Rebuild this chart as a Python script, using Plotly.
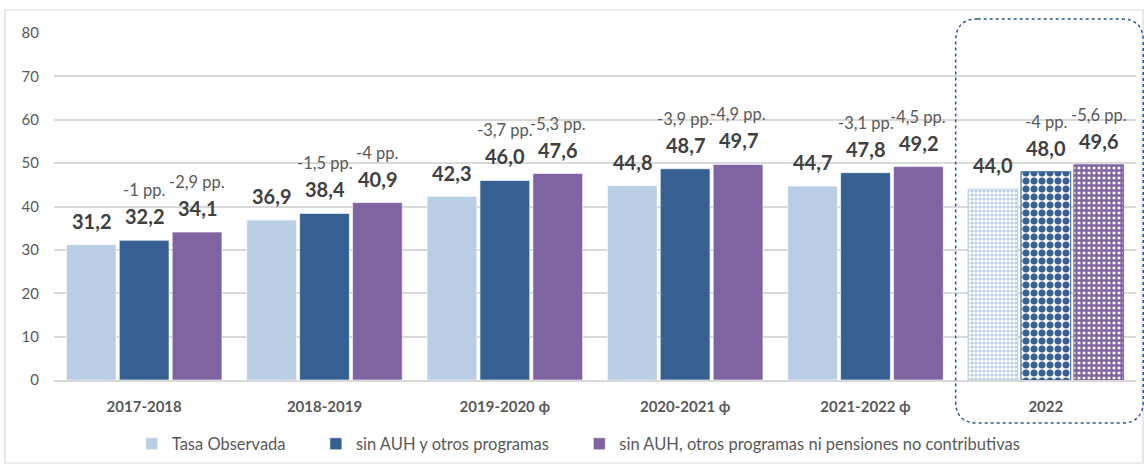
import plotly.graph_objects as go

categories = ["2017-2018", "2018-2019", "2019-2020 ϕ", "2020-2021 ϕ", "2021-2022 ϕ", "2022"]
tasa_observada = [31.2, 36.9, 42.3, 44.8, 44.7, 44.0]
sin_auh = [32.2, 38.4, 46.0, 48.7, 47.8, 48.0]
sin_auh_pnc = [34.1, 40.9, 47.6, 49.7, 49.2, 49.6]
diff_auh = ["-1 pp.", "-1,5 pp.", "-3,7 pp.", "-3,9 pp.", "-3,1 pp.", "-4 pp."]
diff_auh_pnc = ["-2,9 pp.", "-4 pp.", "-5,3 pp.", "-4,9 pp.", "-4,5 pp.", "-5,6 pp."]
series_names = ["Tasa Observada", "sin AUH y otros programas",
                "sin AUH, otros programas ni pensiones no contributivas"]
y_ticks = [0, 10, 20, 30, 40, 50, 60, 70, 80]

COLORS = ["#B9CDE5", "#366092", "#8064A2"]
PATTERNS = [(".", 4, 0.5), (".", 8, 0.6), ("+", 5, 0.7)]
FONT = "Lato, 'Open Sans', sans-serif"
TXT = "#404040"
GREY = "#595959"
NBSP = "\u00a0"

# layout geometry
L, R, T, B = 54, 8, 33, 85
W, H = 1144, 465
BARGAP, BARGROUPGAP = 0.12, 0.06
pw, ph = W - L - R, H - T - B
n = len(categories)
slot_px = (pw / n) * (1 - BARGAP) / 3


def fmt(v):
    return f"{v:.1f}".replace(".", ",")


def px_to_paper_x(px):
    return (px - L) / pw


def px_to_paper_y(py):
    return (H - B - py) / ph


fig = go.Figure()
all_vals = [tasa_observada, sin_auh, sin_auh_pnc]
all_diffs = [None, diff_auh, diff_auh_pnc]
legend_names = [series_names[0] + NBSP * 6, series_names[1] + NBSP * 6, series_names[2]]
annotations = []
for k in range(3):
    shape, size, sol = PATTERNS[k]
    fig.add_trace(go.Bar(
        x=categories,
        y=all_vals[k],
        name=legend_names[k],
        marker=dict(
            color=COLORS[k],
            line=dict(width=1, color=["rgba(255,255,255,0.6)"] * (n - 1) + [COLORS[k]]),
            pattern=dict(
                shape=[""] * (n - 1) + [shape],
                fgcolor=COLORS[k],
                bgcolor="white",
                size=size,
                solidity=sol,
                fillmode="replace",
            ),
        ),
        hovertemplate="%{x}: %{y}<extra>" + series_names[k] + "</extra>",
    ))
    xs = (k - 1) * slot_px
    for i in range(n):
        v = all_vals[k][i]
        # x given as category index (a label like "2022" would be read as a number)
        annotations.append(dict(
            x=i, y=v, xref="x", yref="y", text=f"<b>{fmt(v)}</b>",
            showarrow=False, yanchor="bottom", xanchor="center",
            xshift=xs, yshift=10,
            font=dict(family=FONT, size=20, color=TXT),
        ))
        if all_diffs[k] is not None:
            annotations.append(dict(
                x=i, y=v, xref="x", yref="y", text=all_diffs[k][i],
                showarrow=False, yanchor="bottom", xanchor="center",
                xshift=xs, yshift=38,
                font=dict(family=FONT, size=16.5, color=GREY),
            ))

shapes = []
# outer chart border
shapes.append(dict(
    type="rect", xref="paper", yref="paper",
    x0=px_to_paper_x(5), x1=px_to_paper_x(1143),
    y0=px_to_paper_y(463), y1=px_to_paper_y(10),
    line=dict(color="#D9D9D9", width=1.2), layer="below",
))

# dotted rounded box around the last category (category axis range [-0.5, n-0.5])
xi = n - 1
bx0 = (xi - 0.5 + 0.5) / n
bx1 = (xi + 0.54 + 0.5) / n
by0, by1 = px_to_paper_y(423), px_to_paper_y(19)
rx = 22 / pw
ry = 22 / ph
path = (f"M {bx0 + rx},{by1} L {bx1 - rx},{by1} Q {bx1},{by1} {bx1},{by1 - ry} "
        f"L {bx1},{by0 + ry} Q {bx1},{by0} {bx1 - rx},{by0} "
        f"L {bx0 + rx},{by0} Q {bx0},{by0} {bx0},{by0 + ry} "
        f"L {bx0},{by1 - ry} Q {bx0},{by1} {bx0 + rx},{by1} Z")
shapes.append(dict(
    type="path", xref="paper", yref="paper", path=path,
    line=dict(color="#2F5597", width=1.5, dash="dot"),
))

fig.update_layout(
    width=W, height=H,
    margin=dict(l=L, r=R, t=T, b=B, autoexpand=False),
    paper_bgcolor="white",
    plot_bgcolor="white",
    barmode="group",
    bargap=BARGAP,
    bargroupgap=BARGROUPGAP,
    font=dict(family=FONT, color=GREY, size=15),
    showlegend=True,
    legend=dict(
        orientation="h", x=0.485, xanchor="center", y=px_to_paper_y(444), yanchor="middle",
        font=dict(family=FONT, size=16.5, color=GREY),
        itemwidth=30, traceorder="normal",
    ),
    shapes=shapes,
    annotations=annotations,
    xaxis=dict(
        type="category",
        range=[-0.5, n - 0.5],
        showgrid=False,
        showline=True, linecolor="#D9D9D9", linewidth=1.5,
        ticks="",
        tickfont=dict(family=FONT, size=15, color=GREY, weight="bold"),
        ticklabelstandoff=12,
        automargin=False,
    ),
    yaxis=dict(
        range=[0, 80],
        tickvals=y_ticks,
        showgrid=True, gridcolor="#D9D9D9", gridwidth=1.5,
        zeroline=False,
        showline=False,
        ticks="",
        tickfont=dict(family=FONT, size=15, color=GREY),
        ticklabelstandoff=14,
        automargin=False,
    ),
)

fig.write_html(
    "out.html",
    config={"displayModeBar": False},
    post_script="document.body.style.margin='0';document.body.style.overflow='hidden';",
)
